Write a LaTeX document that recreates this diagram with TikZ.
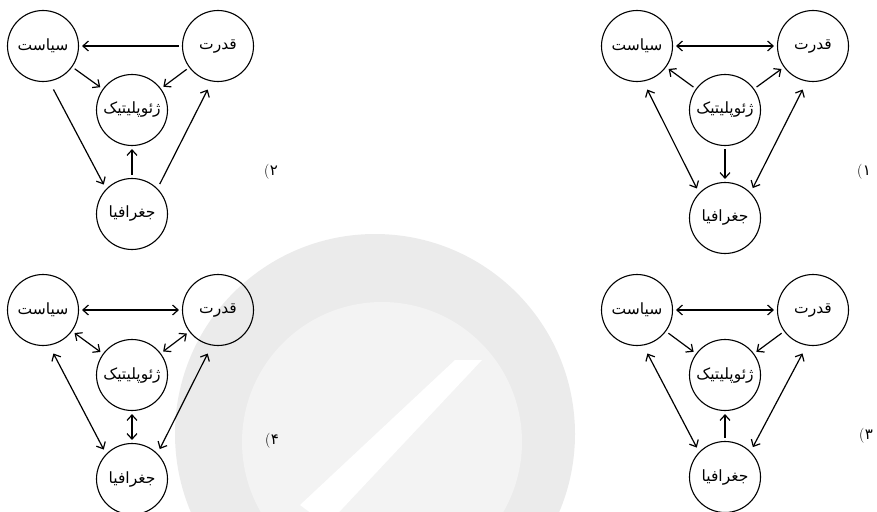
\documentclass[tikz,border=0pt]{standalone}
\usepackage{fontspec}
\newfontfamily\arabicfont[Script=Arabic]{DejaVu Sans}
\TeXXeTstate=1
\usetikzlibrary{arrows.meta,calc}
\definecolor{wmA}{HTML}{EBEBEB}
\definecolor{wmB}{HTML}{F3F3F3}
\tikzset{
  circ/.style={circle, draw, line width=1.1pt, minimum size=71pt, inner sep=0pt,
    font=\arabicfont\fontsize{15.5}{17}\selectfont},
  con/.style={line width=1.2pt, shorten >=3pt, shorten <=3pt},
  lng/.style={line width=1.2pt, shorten <=9pt, shorten >=5pt},
  lbl/.style={font=\fontsize{15}{17}\selectfont, inner sep=0pt},
  >={Straight Barb[length=5.5pt,width=10pt]}
}
\newcommand{\fa}[1]{\beginR #1\endR}
\newcommand{\opt}[1]{(\hspace{0.5pt}{\arabicfont #1}}
\begin{document}
\begin{tikzpicture}[x=1pt,y=-1pt]
\useasboundingbox (0,0) rectangle (877,511);
% watermark
\fill[wmA] (375,434) circle (200);
\fill[wmB] (382,442) circle (140);
\fill[white] (300,505) -- (455,360) -- (482,360) -- (327,525) -- cycle;

% ---------- diagram 2 (top left)
\node[circ] (s2) at (43,46) {\fa{سیاست}};
\node[circ] (q2) at (218,46) {\fa{قدرت}};
\node[circ] (g2) at (132,110) {\fa{ژئوپلیتیک}};
\node[circ] (j2) at (132,214) {\fa{جغرافیا}};
\node[lbl] (n2) at (271,172) {\opt{۲}};
\draw[con,->] (q2) -- (s2);
\draw[con,->] (s2) -- (g2);
\draw[con,->] (q2) -- (g2);
\draw[lng,->] (s2.-80) -- (j2.136);
\draw[lng,<-] (q2.-100) -- (j2.45);
\draw[con,->] (j2) -- (g2);

% ---------- diagram 1 (top right)
\node[circ] (s1) at (637,46) {\fa{سیاست}};
\node[circ] (q1) at (813,46) {\fa{قدرت}};
\node[circ] (g1) at (725,110) {\fa{ژئوپلیتیک}};
\node[circ] (j1) at (725,218) {\fa{جغرافیا}};
\node[lbl] (n1) at (864,172) {\opt{۱}};
\draw[con,<->] (s1) -- (q1);
\draw[con,->] (g1) -- (s1);
\draw[con,->] (g1) -- (q1);
\draw[lng,<->] (s1.-80) -- (j1.136);
\draw[lng,<->] (q1.-100) -- (j1.45);
\draw[con,->] (g1) -- (j1);

% ---------- diagram 4 (bottom left)
\node[circ] (s4) at (43,310) {\fa{سیاست}};
\node[circ] (q4) at (218,310) {\fa{قدرت}};
\node[circ] (g4) at (132,375) {\fa{ژئوپلیتیک}};
\node[circ] (j4) at (132,479) {\fa{جغرافیا}};
\node[lbl] (n4) at (272,441) {\opt{۴}};
\draw[con,<->] (s4) -- (q4);
\draw[con,<->] (s4) -- (g4);
\draw[con,<->] (q4) -- (g4);
\draw[lng,<->] (s4.-80) -- (j4.136);
\draw[lng,<->] (q4.-100) -- (j4.45);
\draw[con,<->] (g4) -- (j4);

% ---------- diagram 3 (bottom right)
\node[circ] (s3) at (637,310) {\fa{سیاست}};
\node[circ] (q3) at (813,310) {\fa{قدرت}};
\node[circ] (g3) at (725,375) {\fa{ژئوپلیتیک}};
\node[circ] (j3) at (725,477) {\fa{جغرافیا}};
\node[lbl] (n3) at (866,436) {\opt{۳}};
\draw[con,<->] (s3) -- (q3);
\draw[con,->] (s3) -- (g3);
\draw[con,->] (q3) -- (g3);
\draw[lng,<->] (s3.-80) -- (j3.136);
\draw[lng,<->] (q3.-100) -- (j3.45);
\draw[con,->] (j3) -- (g3);
\end{tikzpicture}
\end{document}
